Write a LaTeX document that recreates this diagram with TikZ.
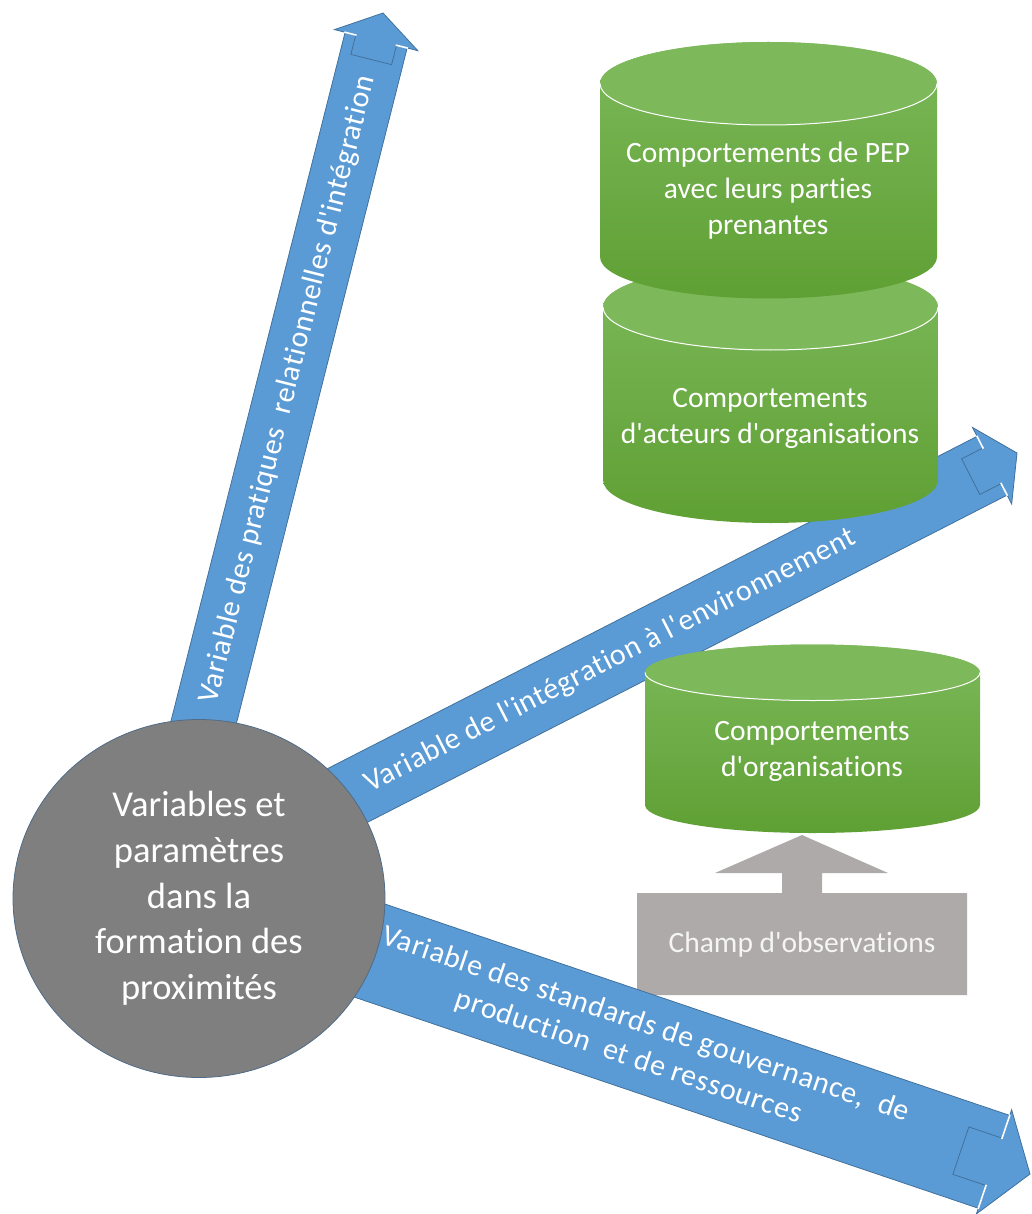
\documentclass[tikz,border=0pt]{standalone}
\usepackage{fontspec}
\setmainfont{Carlito}[Ligatures={TeXOff,CommonOff}]
\usetikzlibrary{calc,shapes.geometric}
\definecolor{ablue}{HTML}{5B9BD5}
\definecolor{ablueline}{HTML}{41719C}
\definecolor{hubgray}{HTML}{7F7F7F}
\definecolor{hubline}{HTML}{4F6B88}
\definecolor{fieldgray}{HTML}{AEAAAA}
\definecolor{gtop}{HTML}{7CB85A}
\definecolor{gbot}{HTML}{5FA034}
\definecolor{gcap}{HTML}{7DB85B}
\newcommand\blockarrow[8]{%
  \coordinate (#8B) at ($(#2)!#5pt!(#1)$);
  \coordinate (#8K) at ($(#8B)!#7pt!(#1)$);
  \filldraw[arrowbody] ($(#1)!#3pt!90:(#2)$) -- ($(#8B)!#3pt!90:(#2)$) -- ($(#8B)!#3pt!-90:(#2)$) -- ($(#1)!#3pt!-90:(#2)$) -- cycle;
  \filldraw[arrowbody] ($(#8K)!#6pt!90:(#2)$) -- ($(#8B)!#6pt!90:(#2)$) -- ($(#8B)!#4pt!90:(#2)$) -- (#2) -- ($(#8B)!#4pt!-90:(#2)$) -- ($(#8B)!#6pt!-90:(#2)$) -- ($(#8K)!#6pt!-90:(#2)$) -- cycle;
  \draw[gapline] ($(#8B)!#6pt!90:(#2)$) -- ($(#8B)!#3pt!90:(#2)$);
  \draw[gapline] ($(#8B)!#6pt!-90:(#2)$) -- ($(#8B)!#3pt!-90:(#2)$);
}
\newcommand\greencyl[5]{% xl, xr, ytop, ybot, ry
  \pgfmathsetmacro\cylrx{(#2-#1)/2}
  \pgfmathsetmacro\cylcx{(#2+#1)/2}
  \shade[top color=gtop, bottom color=gbot] (#1,#3) -- (#1,#4)
     arc[start angle=180, end angle=360, x radius=\cylrx pt, y radius=#5pt]
     -- (#2,#3)
     arc[start angle=0, end angle=180, x radius=\cylrx pt, y radius=#5pt] -- cycle;
  \fill[gcap] (\cylcx,#3) ellipse[x radius=\cylrx pt, y radius=#5pt];
  \draw[white, line width=1pt] (#1,#3) arc[start angle=180, end angle=360, x radius=\cylrx pt, y radius=#5pt];
}
\begin{document}
\begin{tikzpicture}[x=1pt, y=-1pt,
  arrowbody/.style={fill=ablue, draw=ablueline, line width=0.8pt, line join=miter},
  gapline/.style={white, line width=1.6pt, line cap=rect},
  arrowtext/.style={text=white, font=\fontsize{30}{36}\selectfont\addfontfeature{LetterSpace=2.5}, align=center, inner sep=0pt},
  cyltext/.style={text=white, font=\fontsize{29.5}{36}\selectfont, align=center, inner sep=0pt},
  hub/.style={ellipse, fill=hubgray, draw=hubline, line width=0.8pt, minimum width=372pt, minimum height=358pt, inner sep=0pt, text=white, font=\fontsize{36.5}{45.7}\selectfont, align=center},
  field/.style={fill=fieldgray, draw=none}
]
\useasboundingbox (0,0) rectangle (1031,1214);

% observation field (up-arrow callout)
\fill[field] (637,893) -- (782,893) -- (782,873) -- (715,873) -- (802,835) -- (888,873) -- (822,873) -- (822,893) -- (967,893) -- (967,995) -- (637,995) -- cycle;
\node[cyltext, text=white!96!black] (field) at (802,945) {Champ d'observations};

% arrows
\coordinate (a1s) at (180.5,814);
\coordinate (a1t) at (383,13);
\coordinate (a2s) at (257.5,841.5);
\coordinate (a2t) at (1017,453);
\coordinate (a3s) at (275.7,918.8);
\coordinate (a3t) at (1030,1174);

\blockarrow{a1s}{a1t}{32}{43}{28}{21}{20}{a1}
\blockarrow{a2s}{a2t}{33}{43}{28}{20}{24}{a2}
\blockarrow{a3s}{a3t}{49}{55}{38}{25}{35}{a3}

\node[arrowtext, rotate=75.8] (l1) at ($(a1s)!0.53!(a1t)$) {Variable des pratiques~ relationnelles d'intégration};
\node[arrowtext, rotate=27.1] (l2) at ($(a2s)!0.465!(a2t)$) {Variable de l'intégration à l'environnement};
\node[arrowtext, rotate=-18.7] (l3) at ($(a3s)!0.483!(a3t)$) {Variable des standards de gouvernance,~ de\\production~ et de ressources\hspace*{12pt}};

% cylinders
\greencyl{603}{938}{307}{480}{43}
\greencyl{600}{937}{83.5}{257}{41.5}
\greencyl{645}{980}{672.5}{805}{28}
\node[cyltext] (pep) at (768,191) {Comportements de PEP\\avec leurs parties\\prenantes};
\node[cyltext] (acteurs) at (770,418) {Comportements\\d'acteurs d'organisations};
\node[cyltext] (orgs) at (812,751) {Comportements\\d'organisations};

% hub
\node[hub] (hubnode) at (199,898.5) {Variables et\\paramètres\\dans la\\formation des\\proximités};
\end{tikzpicture}
\end{document}
